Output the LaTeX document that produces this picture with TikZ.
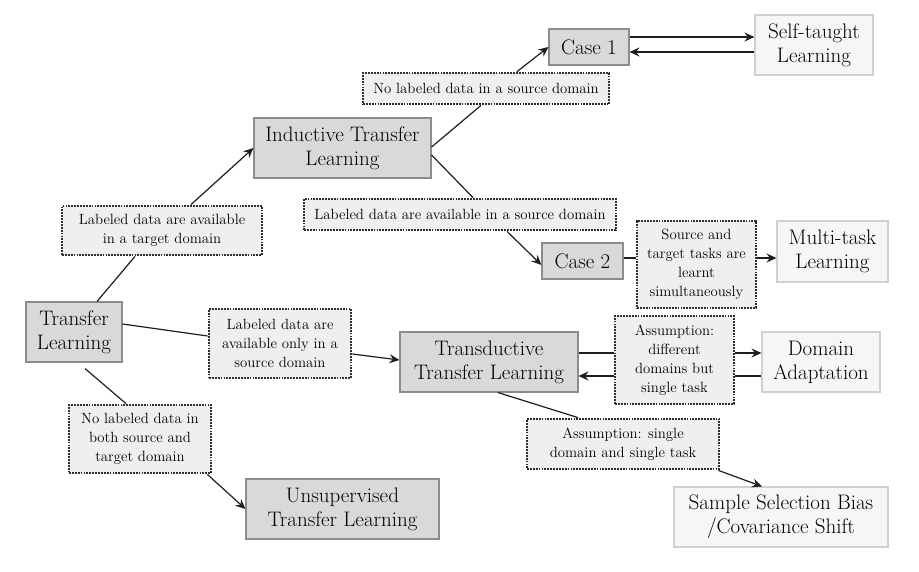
\documentclass[tikz,border=0pt]{standalone}
\usetikzlibrary{arrows.meta,calc}
\definecolor{mainfill}{HTML}{D9D9D9}
\definecolor{mainline}{HTML}{8C8C8C}
\definecolor{lightfill}{HTML}{F6F6F6}
\definecolor{lightline}{HTML}{D0D0D0}
\definecolor{labfill}{HTML}{EFEFEF}
\definecolor{labline}{HTML}{2E2E2E}
\definecolor{conn}{HTML}{1E1E1E}
\tikzset{
  mainbox/.style={draw=mainline, fill=mainfill, line width=1.1pt, align=center, inner sep=0pt,
    font=\fontsize{21}{24}\selectfont},
  lightbox/.style={draw=lightline, fill=lightfill, line width=1.1pt, align=center, inner sep=0pt,
    font=\fontsize{21}{24}\selectfont},
  labbox/.style={draw=labline, fill=labfill, line width=2.8pt, dash pattern=on 1.8pt off 1.1pt,
    align=center, inner sep=0pt, font=\fontsize{14.8}{19}\selectfont},
  link/.style={draw=conn, line width=1.2pt},
  arr/.style={link, -{Stealth[length=10pt,width=9pt,inset=3.5pt]}},
}
\begin{document}
\begin{tikzpicture}[x=1pt,y=-1pt]
\useasboundingbox (0,0) rectangle (919,571);
% main boxes
\node[mainbox, minimum width=96pt, minimum height=60pt] (TL) at (74,332) {Transfer\\Learning};
\node[mainbox, minimum width=177pt, minimum height=60pt] (ITL) at (342.5,148) {Inductive Transfer\\Learning};
\node[mainbox, minimum width=80pt, minimum height=36pt] (C1) at (589,47) {Case 1};
\node[mainbox, minimum width=81pt, minimum height=36pt] (C2) at (582.5,261) {Case 2};
\node[mainbox, minimum width=178pt, minimum height=60pt] (TTL) at (489,362) {Transductive\\Transfer Learning};
\node[mainbox, minimum width=193pt, minimum height=60pt] (UTL) at (342.5,509) {Unsupervised\\Transfer Learning};
% light boxes
\node[lightbox, minimum width=118pt, minimum height=60pt] (STL) at (814,45) {Self-taught\\Learning};
\node[lightbox, minimum width=111pt, minimum height=61pt] (MTL) at (832.5,251.5) {Multi-task\\Learning};
\node[lightbox, minimum width=118pt, minimum height=60pt] (DA) at (821,362) {Domain\\Adaptation};
\node[lightbox, minimum width=214pt, minimum height=60pt] (SSB) at (781,517) {Sample Selection Bias\\/Covariance Shift};
% label boxes
\node[labbox, minimum width=200pt, minimum height=49pt] (LT) at (162,230.5) {Labeled data are available\\in a target domain};
\node[labbox, minimum width=246pt, minimum height=31pt] (LNS) at (486,88.5) {No labeled data in a source domain};
\node[labbox, minimum width=312pt, minimum height=31pt] (LAS) at (460,214.5) {Labeled data are available in a source domain};
\node[labbox, minimum width=119pt, minimum height=87pt] (LST) at (696.5,264.5) {Source and\\target tasks are\\learnt\\simultaneously};
\node[labbox, minimum width=142pt, minimum height=69pt] (LOS) at (280,343.5) {Labeled data are\\available only in a\\source domain};
\node[labbox, minimum width=142pt, minimum height=68pt] (LNB) at (140,439) {No labeled data in\\both source and\\target domain};
\node[labbox, minimum width=119pt, minimum height=88pt] (LA1) at (674.5,360) {Assumption:\\different\\domains but\\single task};
\node[labbox, minimum width=192pt, minimum height=50pt] (LA2) at (623,444) {Assumption: single\\domain and single task};
% connectors
\draw[link] ([xshift=23pt]TL.north) -- ([xshift=-27pt]LT.south);
\draw[arr] ([xshift=29pt]LT.north) -- (ITL.west);
\draw[link] ([yshift=1pt]ITL.east) -- ([xshift=-5pt]LNS.south);
\draw[arr] ([xshift=31pt]LNS.north) -- (C1.west);
\draw[link] ([yshift=-7pt]ITL.east) -- ([xshift=13pt]LAS.north);
\draw[arr] ([xshift=47pt]LAS.south) -- ([yshift=-4pt]C2.west);
\draw[link] ([yshift=3pt]C2.east) -- ([yshift=3pt]C2.east -| LST.west);
\draw[arr] ([yshift=3pt]C2.east -| LST.east) -- ([yshift=3pt]C2.east -| MTL.west);
\draw[arr] ([yshift=10pt]C1.east) -- ([yshift=10pt]C1.east -| STL.west);
\draw[arr] ([yshift=-5pt]C1.east -| STL.west) -- ([yshift=-5pt]C1.east);
\draw[link] ([yshift=8pt]TL.east) -- ([yshift=7.5pt]LOS.west);
\draw[arr] ([yshift=-10.5pt]LOS.east) -- ([yshift=2pt]TTL.west);
\draw[link] ([xshift=11pt,yshift=-6pt]TL.south) -- ([xshift=-14pt]LNB.north);
\draw[arr] ([xshift=-5pt]LNB.south east) -- (UTL.west);
\draw[link] ([yshift=9pt]TTL.east) -- ([yshift=9pt]TTL.east -| LA1.west);
\draw[arr] ([yshift=9pt]TTL.east -| LA1.east) -- ([yshift=9pt]TTL.east -| DA.west);
\draw[link] ([yshift=-14pt]TTL.east -| DA.west) -- ([yshift=-14pt]TTL.east -| LA1.east);
\draw[arr] ([yshift=-14pt]TTL.east -| LA1.west) -- ([yshift=-14pt]TTL.east);
\draw[link] ([xshift=9pt]TTL.south) -- ([xshift=-45pt]LA2.north);
\draw[arr] ([xshift=-2pt]LA2.south east) -- ([xshift=-19pt]SSB.north);
\end{tikzpicture}
\end{document}
